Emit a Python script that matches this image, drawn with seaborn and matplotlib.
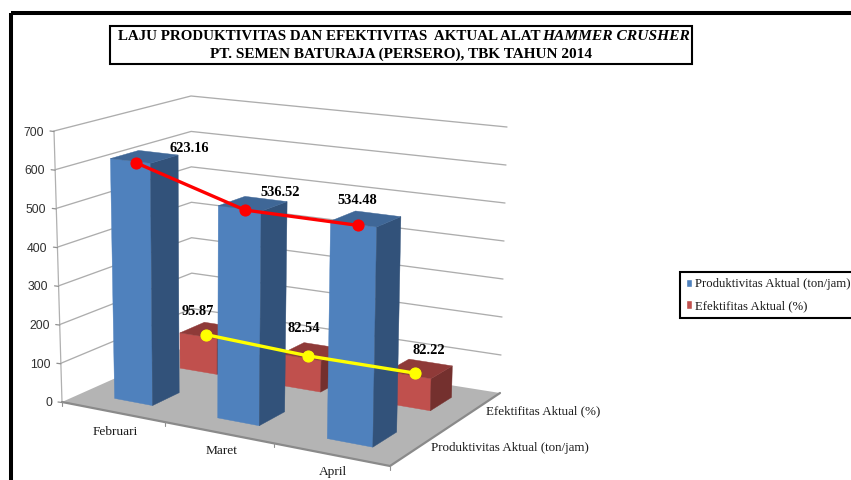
import numpy as np
import matplotlib
matplotlib.use("Agg")
import matplotlib.pyplot as plt
from matplotlib.patches import Polygon, Rectangle, Patch
import pandas as pd
import seaborn as sns

months = ["Februari", "Maret", "April"]
series_names = ["Produktivitas Aktual (ton/jam)", "Efektifitas Aktual (%)"]
produktivitas = [623.16, 536.52, 534.48]
efektifitas = [95.87, 82.54, 82.22]
value_ticks = [0, 100, 200, 300, 400, 500, 600, 700]

sns.set_theme(style="white")
plt.rcParams["font.family"] = ["Liberation Serif", "DejaVu Serif"]

W, H = 851, 480
fig = plt.figure(figsize=(W / 100, H / 100), dpi=100, facecolor="white")
ax = fig.add_axes([0, 0, 1, 1])
ax.set_xlim(0, W)
ax.set_ylim(H, 0)
ax.axis("off")

VMAX = 700.0
# Screen quads of the 3D box: front-left, front-right, back-right, back-left
floor_quad = [(62, 402), (390, 466), (500, 393), (192, 344)]
top_quad = [(54, 131), (395, 170), (507, 127), (191, 96)]


def homography(q):
    src = [(0, 0), (1, 0), (1, 1), (0, 1)]
    A, b = [], []
    for (u, v), (x, y) in zip(src, q):
        A.append([u, v, 1, 0, 0, 0, -u * x, -v * x]); b.append(x)
        A.append([0, 0, 0, u, v, 1, -u * y, -v * y]); b.append(y)
    h = np.linalg.solve(np.array(A, float), np.array(b, float))
    return np.append(h, 1).reshape(3, 3)


H0, H1 = homography(floor_quad), homography(top_quad)


def apply_h(M, u, v):
    p = M @ np.array([u, v, 1.0])
    return p[:2] / p[2]


def proj(u, v, val):
    w = val / VMAX
    return (1 - w) * apply_h(H0, u, v) + w * apply_h(H1, u, v)


def ucat(t):
    return t + 0.045 * t * (1 - t)


def draw_bar(uc, vc, val, front, side, top, du=0.064, dv=0.10):
    u0, u1, v0, v1 = uc - du, uc + du, vc - dv, vc + dv
    faces = [
        ([(u0, v0, 0), (u1, v0, 0), (u1, v0, val), (u0, v0, val)], front),
        ([(u1, v0, 0), (u1, v1, 0), (u1, v1, val), (u1, v0, val)], side),
        ([(u0, v0, val), (u1, v0, val), (u1, v1, val), (u0, v1, val)], top),
    ]
    for pts, col in faces:
        ax.add_patch(Polygon([proj(*p) for p in pts], closed=True, fc=col, ec=col, lw=0.3, zorder=3))


# Walls: gridlines on left and back walls
grid = "#adadad"
for t in value_ticks[1:]:
    pts = np.array([proj(0, 0, t), proj(0, 1, t), proj(1, 1, t)])
    ax.plot(pts[:, 0], pts[:, 1], color=grid, lw=0.95, zorder=1)

# Value axis
axis_pts = np.array([proj(0, 0, 0), proj(0, 0, VMAX)])
ax.plot(axis_pts[:, 0], axis_pts[:, 1], color="#b0b0b0", lw=0.9, zorder=1)
for t in value_ticks:
    x, y = proj(0, 0, t)
    ax.plot([x - 4, x], [y, y + 0.5], color="#909090", lw=0.9, zorder=1)
    ax.text(x - 10, y + 1.5, str(t), ha="right", va="center", fontsize=8.8,
            family="Liberation Sans", color="#303030")

# Floor
ax.add_patch(Polygon([proj(u, v, 0) for u, v in [(0, 0), (1, 0), (1, 1), (0, 1)]],
                     closed=True, fc="#b4b4b4", ec="none", zorder=2))
edge = np.array([proj(0, 0, 0), proj(1, 0, 0), proj(1, 1, 0)])
ax.plot(edge[:, 0], edge[:, 1], color="#8a8a8a", lw=1.6, zorder=2)
for i in range(4):
    x, y = proj(ucat(i / 3), 0, 0)
    ax.plot([x, x], [y, y + 4], color="#909090", lw=0.8, zorder=2)

# Bars, back row first
u_centers = [ucat((i + 0.5) / 3) for i in range(3)]
for uc, val in zip(u_centers, efektifitas):
    draw_bar(uc, 0.75, val, "#c0504d", "#74302e", "#8f3a38")
for uc, val in zip(u_centers, produktivitas):
    draw_bar(uc, 0.25, val, "#4f81bd", "#32527a", "#3f6797")

# Overlaid trend lines, hand-placed slightly forward of each bar top
red = np.array([proj(uc, 0.19, v) + (0, 3.5) for uc, v in zip(u_centers, produktivitas)])
yel = np.array([proj(uc, 0.71, v) + (0, 2.0) for uc, v in zip(u_centers, efektifitas)])
for pts, col in ((red, "#ff0000"), (yel, "#ffff00")):
    df = pd.DataFrame({"x": pts[:, 0], "y": pts[:, 1]})
    sns.lineplot(data=df, x="x", y="y", ax=ax, color=col, lw=2.4, marker="o", markersize=8,
                 markeredgecolor=col, sort=False, estimator=None, zorder=5, legend=False)
ax.set_xlim(0, W)
ax.set_ylim(H, 0)
ax.axis("off")

# Data labels
for pts, vals, off in ((red, produktivitas, [(53, -14), (35, -18), (-1, -25)]),
                       (yel, efektifitas, [(-8, -23), (-4, -27), (13, -23)])):
    for (x, y), v, (dx, dy) in zip(pts, vals, off):
        ax.text(x + dx, y + dy, f"{v:.2f}", ha="center", va="center", fontsize=10.4,
                fontweight="bold", color="black", zorder=6)

# Axis labels
for uc, name, (dx, dy) in zip(u_centers, months, [(3, 20), (3, 19), (2, 18)]):
    x, y = proj(uc, 0, 0)
    ax.text(x + dx, y + dy, name, ha="center", va="center", fontsize=9.6, color="#1a1a1a")
for vc, name, x0 in zip([0.25, 0.75], series_names, [431, 486]):
    x, y = proj(1, vc, 0)
    ax.text(x0, y + 2, name, ha="left", va="center", fontsize=9.4, color="#1a1a1a")

# Title box
ax.add_patch(Rectangle((110, 25.5), 582, 38, fc="white", ec="black", lw=1.5, zorder=7))
ax.text(540, 36, "LAJU PRODUKTIVITAS DAN EFEKTIVITAS  AKTUAL ALAT", ha="right", va="center",
        fontsize=10.85, fontweight="bold", color="black", zorder=8)
ax.text(542, 36, "HAMMER CRUSHER", ha="left", va="center", fontsize=11.15, fontweight="bold",
        fontstyle="italic", color="black", zorder=8)
ax.text(401, 54, "PT. SEMEN BATURAJA (PERSERO), TBK TAHUN 2014", ha="center", va="center",
        fontsize=10.95, fontweight="bold", color="black", zorder=8)

# Legend
leg = ax.legend(handles=[Patch(fc="#4f81bd", label=series_names[0]), Patch(fc="#c0504d", label=series_names[1])],
                loc="upper left", bbox_to_anchor=(680 / W, 1 - 272 / H), bbox_transform=ax.transAxes,
                fontsize=9.2, frameon=True, fancybox=False, edgecolor="black", framealpha=1,
                handlelength=0.45, handleheight=0.6, handletextpad=0.2, borderpad=0.5, labelspacing=0.75,
                borderaxespad=0)
leg.get_frame().set_linewidth(1.5)
for t in leg.get_texts():
    t.set_color("#1a1a1a")

# Outer black frame running off the canvas
ax.add_patch(Rectangle((11, 13), W + 20, H + 20, fc="none", ec="black", lw=2.9, zorder=9))

fig.savefig("out.png", dpi=100)
